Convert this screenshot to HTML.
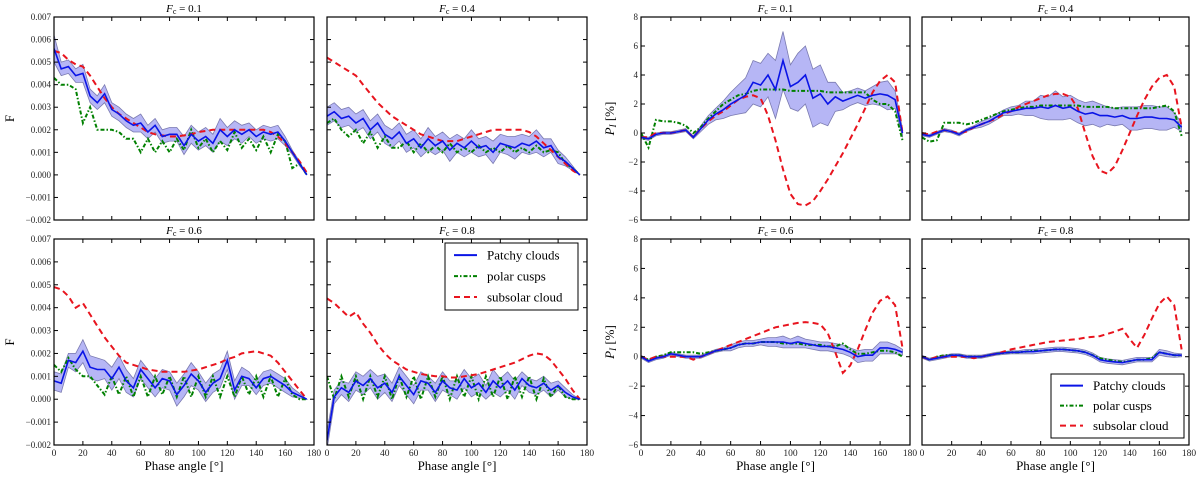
<!DOCTYPE html>
<html><head><meta charset="utf-8">
<style>
html,body{margin:0;padding:0;background:#fff;}
svg{display:block;font-family:"Liberation Serif",serif;}
</style></head>
<body>
<svg id="fig" width="1200" height="478" viewBox="0 0 1200 478" xmlns="http://www.w3.org/2000/svg"></svg>
<script>
const phase=[0,5,10,15,20,25,30,35,40,45,50,55,60,65,70,75,80,85,90,95,100,105,110,115,120,125,130,135,140,145,150,155,160,165,170,175];
// Flux panels (units of 0.001)
const fluxA_sub=[5.5,5.4,5.1,4.9,4.8,4.4,3.9,3.4,3.0,2.7,2.5,2.3,2.1,1.9,1.8,1.75,1.7,1.7,1.75,1.8,1.9,1.95,2.0,2.0,2.0,2.0,2.0,2.0,2.0,2.0,1.9,1.7,1.4,1.0,0.6,0.1];
const fluxA_patchy=[5.6,4.7,4.8,4.4,4.5,3.5,3.2,3.6,2.9,2.7,2.4,2.2,2.3,1.9,2.2,1.7,1.8,1.8,1.3,1.8,1.5,1.7,1.4,2.0,1.7,2.0,1.8,2.0,1.7,1.9,1.8,1.9,1.5,1.0,0.5,0.0];
const fluxA_band=[0.6,0.3,0.3,0.3,0.4,0.3,0.3,0.4,0.3,0.3,0.3,0.3,0.4,0.3,0.3,0.3,0.3,0.3,0.4,0.4,0.4,0.4,0.4,0.5,0.4,0.4,0.4,0.3,0.3,0.3,0.3,0.3,0.2,0.1,0.1,0.0];
const fluxA_polar=[4.3,4.0,4.0,3.8,2.3,3.0,2.0,2.0,2.0,1.9,1.6,1.6,1.0,1.6,1.0,1.5,1.0,1.6,1.1,2.0,1.2,1.6,1.0,1.5,1.1,1.9,1.2,1.6,1.1,1.7,1.0,1.8,1.5,0.3,0.5,0.0];
const fluxB_sub=[5.2,5.0,4.8,4.6,4.4,4.0,3.6,3.2,2.9,2.6,2.4,2.2,2.0,1.8,1.7,1.6,1.5,1.5,1.5,1.6,1.7,1.8,1.9,2.0,2.0,2.0,2.0,2.0,1.9,1.7,1.4,1.1,0.8,0.5,0.2,0.0];
const fluxB_patchy=[2.6,2.8,2.5,2.6,2.3,2.5,2.0,2.3,1.8,1.6,1.9,1.4,1.6,1.2,1.6,1.3,1.5,1.1,1.4,1.2,1.5,1.2,1.3,1.0,1.4,1.3,1.2,1.4,1.3,1.5,1.2,1.3,0.8,0.6,0.3,0.0];
const fluxB_band=[0.4,0.4,0.4,0.4,0.4,0.4,0.4,0.4,0.4,0.4,0.4,0.4,0.4,0.4,0.5,0.4,0.4,0.5,0.4,0.4,0.5,0.4,0.4,0.5,0.4,0.4,0.5,0.4,0.4,0.5,0.4,0.3,0.3,0.2,0.1,0.0];
const fluxB_polar=[2.3,2.5,2.0,1.7,2.0,1.4,1.9,1.2,1.7,1.2,1.2,1.5,1.0,1.4,1.0,1.3,1.0,1.4,1.0,1.2,1.0,1.3,1.0,1.2,1.0,1.3,1.0,1.2,1.0,1.3,1.0,1.1,1.0,0.5,0.3,0.0];
const fluxC_sub=[4.9,4.8,4.5,4.0,4.2,3.7,3.2,2.7,2.3,1.9,1.6,1.5,1.4,1.3,1.25,1.2,1.2,1.2,1.2,1.25,1.3,1.4,1.5,1.6,1.75,1.85,2.0,2.05,2.1,2.0,1.9,1.6,1.2,0.8,0.4,0.0];
const fluxC_patchy=[0.8,0.7,1.7,1.6,2.1,1.4,1.3,1.3,0.9,1.4,0.8,0.5,1.3,0.9,0.5,0.9,0.8,0.2,0.6,1.1,0.8,0.3,0.7,0.9,1.7,0.4,1.0,0.9,0.5,0.9,1.0,0.8,0.6,0.3,0.15,0.0];
const fluxC_band=[0.4,0.4,0.3,0.4,0.5,0.5,0.5,0.4,0.5,0.5,0.5,0.4,0.4,0.4,0.4,0.4,0.4,0.5,0.5,0.5,0.4,0.4,0.4,0.4,0.4,0.4,0.4,0.3,0.3,0.3,0.3,0.3,0.3,0.2,0.1,0.0];
const fluxC_polar=[1.5,1.2,1.8,1.3,1.0,1.0,0.6,0.2,1.0,0.2,1.0,0.1,1.0,0.1,1.0,0.2,1.0,0.1,1.0,0.1,1.0,0.1,1.0,0.1,1.0,0.1,1.0,0.2,1.0,0.1,1.0,0.1,0.9,0.2,0.0,0.0];
const fluxD_sub=[4.4,4.2,3.9,3.6,3.8,3.3,2.9,2.4,2.0,1.7,1.5,1.3,1.2,1.1,1.05,1.0,1.0,0.95,0.95,1.0,1.05,1.1,1.2,1.3,1.4,1.5,1.6,1.75,1.9,2.0,1.95,1.7,1.3,0.9,0.4,0.0];
const fluxD_patchy=[-1.8,0.1,0.5,0.3,0.8,0.6,0.9,0.5,0.7,0.3,1.0,0.6,0.2,0.8,0.7,0.3,0.8,0.5,0.4,0.9,0.5,0.7,0.3,0.8,0.5,0.8,0.4,0.9,0.6,0.5,0.7,0.4,0.6,0.3,0.1,0.0];
const fluxD_band=[0.4,0.3,0.3,0.4,0.4,0.4,0.4,0.5,0.4,0.4,0.4,0.4,0.4,0.4,0.3,0.4,0.4,0.3,0.4,0.4,0.4,0.4,0.3,0.5,0.4,0.4,0.4,0.3,0.3,0.3,0.3,0.3,0.2,0.2,0.1,0.0];
const fluxD_polar=[1.0,0.0,1.0,0.1,1.0,0.0,1.0,0.1,1.0,0.0,1.0,0.1,1.0,0.0,1.0,0.1,1.0,0.0,1.0,0.1,1.0,0.0,1.0,0.1,1.0,0.0,1.0,0.1,1.0,0.0,0.9,0.1,0.6,0.1,0.0,0.0];
// Polarization panels (%)
const polE_sub=[-0.3,-0.3,0,0,0,0.1,0.2,-0.3,0.3,0.8,1.2,1.5,1.9,2.3,2.5,2.6,2.4,1.2,-0.5,-2.5,-4.2,-4.9,-5.0,-4.7,-4.0,-3.2,-2.3,-1.4,-0.4,0.6,1.7,2.8,3.6,4.0,3.5,0];
const polE_patchy=[-0.3,-0.4,-0.1,0,0,0.1,0.2,-0.3,0.3,0.9,1.3,1.6,2.0,2.3,2.6,3.5,3.3,4.0,3.0,5.0,3.2,3.5,4.0,2.4,2.7,2.0,2.5,2.2,2.4,2.6,2.4,2.6,2.7,2.6,2.3,0];
const polE_band=[0.1,0.1,0.1,0.1,0.1,0.1,0.1,0.1,0.2,0.3,0.4,0.6,0.8,1.0,1.2,1.5,1.5,1.5,2.0,2.0,1.5,2.0,2.0,2.0,2.0,1.5,1.0,0.6,0.5,0.5,0.5,0.6,0.8,1.0,0.6,0.3];
const polE_polar=[0,-1.0,0.9,0.8,0.8,0.7,0.5,0.0,0.4,1.0,1.5,2.0,2.3,2.6,2.7,2.9,3.0,3.0,3.0,3.0,2.9,2.9,2.9,2.9,2.9,2.8,2.8,2.8,2.8,2.8,2.8,2.3,2.0,2.0,1.5,-0.5];
const polF_sub=[0,-0.1,0.1,0.2,0.1,0,0.1,0.4,0.6,0.8,1.0,1.3,1.5,1.8,2.0,2.2,2.4,2.6,2.7,2.7,2.5,1.7,0,-1.6,-2.6,-2.8,-2.3,-1.2,0,1.2,2.3,3.2,3.8,4.0,3.2,0.4];
const polF_patchy=[-0.1,-0.2,0.0,0.2,0.1,-0.1,0.2,0.4,0.6,0.8,1.1,1.4,1.5,1.6,1.7,1.7,1.8,1.7,1.9,1.7,1.8,1.5,1.3,1.4,1.2,1.2,1.1,1.2,1.0,1.0,1.1,1.1,1.0,1.0,0.9,0.4];
const polF_band=[0.1,0.1,0.1,0.1,0.1,0.1,0.1,0.1,0.2,0.2,0.2,0.2,0.3,0.3,0.5,0.5,0.8,0.8,1.0,0.8,0.8,0.8,0.8,0.8,0.8,0.6,0.6,0.6,0.8,0.8,0.8,0.8,0.8,0.8,0.5,0.3];
const polF_polar=[-0.3,-0.6,-0.5,0.7,0.7,0.7,0.6,0.7,0.9,1.1,1.3,1.5,1.6,1.7,1.8,1.8,1.9,1.9,1.9,1.9,1.9,1.9,1.8,1.8,1.8,1.8,1.7,1.7,1.7,1.7,1.7,1.7,1.8,1.9,1.5,-0.2];
const polG_sub=[0,-0.2,0,0,0,0,0,-0.2,0,0.2,0.4,0.6,0.8,1.0,1.2,1.4,1.6,1.8,2.0,2.1,2.2,2.3,2.35,2.3,2.2,1.6,0.3,-1.1,-0.6,0.5,1.8,3.0,3.8,4.1,3.5,0.6];
const polG_patchy=[0,-0.3,-0.1,0,0.2,0.1,0,0,0,0.2,0.4,0.5,0.6,0.8,0.9,0.9,1.0,1.0,1.0,1.0,0.9,1.0,0.9,0.8,0.7,0.7,0.6,0.5,0.3,0.0,0.1,0.1,0.6,0.6,0.5,0.3];
const polG_band=[0.1,0.1,0.1,0.1,0.1,0.1,0.1,0.1,0.1,0.1,0.1,0.1,0.2,0.2,0.2,0.2,0.2,0.3,0.3,0.4,0.3,0.4,0.3,0.3,0.3,0.3,0.3,0.3,0.3,0.4,0.4,0.4,0.4,0.4,0.3,0.2];
const polG_polar=[0,-0.2,0,0.1,0.3,0.3,0.3,0.3,0.2,0.3,0.4,0.5,0.6,0.8,0.9,0.9,1.0,1.0,1.0,0.9,0.9,0.9,0.8,0.8,0.8,0.7,0.7,0.9,0.5,0.2,0.2,0.3,0.4,0.4,0.3,0.0];
const polH_sub=[0,-0.2,0,0,0,0,0,-0.1,0,0.1,0.2,0.35,0.5,0.6,0.7,0.8,0.9,1.0,1.05,1.1,1.15,1.2,1.3,1.35,1.4,1.55,1.7,1.9,1.2,0.6,1.5,2.6,3.6,4.1,3.5,0.5];
const polH_patchy=[0,-0.2,-0.1,0,0.1,0.1,0,0,0,0.1,0.2,0.25,0.3,0.3,0.35,0.35,0.4,0.45,0.5,0.5,0.45,0.4,0.3,0.1,-0.2,-0.3,-0.35,-0.4,-0.3,-0.2,-0.2,-0.2,0.3,0.2,0.1,0.1];
const polH_band=[0.1,0.1,0.1,0.1,0.1,0.1,0.1,0.1,0.1,0.1,0.1,0.1,0.1,0.1,0.15,0.15,0.15,0.15,0.15,0.15,0.15,0.15,0.15,0.15,0.15,0.15,0.15,0.15,0.15,0.15,0.15,0.15,0.2,0.2,0.15,0.1];
const polH_polar=[0,-0.2,0,0.1,0.1,0.1,0,0,0,0.1,0.2,0.25,0.3,0.3,0.35,0.4,0.4,0.45,0.5,0.5,0.45,0.4,0.3,0.1,-0.1,-0.2,-0.3,-0.35,-0.3,-0.2,-0.2,-0.1,0.3,0.2,0.1,0.1];
const xTicks=[0,20,40,60,80,100,120,140,160,180];
const fluxTicks=[7,6,5,4,3,2,1,0,-1,-2];
const fluxTickLabels=["0.007","0.006","0.005","0.004","0.003","0.002","0.001","0.000","−0.001","−0.002"];
const polTicks=[8,6,4,2,0,-2,-4,-6];
const polTickLabels=["8","6","4","2","0","−2","−4","−6"];

const NS="http://www.w3.org/2000/svg";
const svg=document.getElementById('fig');
function mk(tag,attrs,parent){const e=document.createElementNS(NS,tag);for(const k in attrs)e.setAttribute(k,attrs[k]);(parent||svg).appendChild(e);return e;}

function panel(cfg){
  const g=mk('g',{});
  
  
  const sx=v=>cfg.x0+(v-0)/180*(cfg.x1-cfg.x0);
  const sy=v=>cfg.y1-(v-cfg.ymin)/(cfg.ymax-cfg.ymin)*(cfg.y1-cfg.y0);
  const clipId='c'+cfg.name;
  const cp=mk('clipPath',{id:clipId},g);mk('rect',{x:cfg.x0,y:cfg.y0,width:cfg.x1-cfg.x0,height:cfg.y1-cfg.y0},cp);
  const dg=mk('g',{'clip-path':'url(#'+clipId+')'},g);
  let up=phase.map((p,i)=>sx(p).toFixed(1)+','+sy(cfg.patchy[i]+cfg.band[i]).toFixed(1));
  let dn=phase.map((p,i)=>sx(p).toFixed(1)+','+sy(cfg.patchy[i]-cfg.band[i]).toFixed(1)).reverse();
  const band=mk('polygon',{points:up.concat(dn).join(' '),fill:'rgba(110,110,235,0.5)',stroke:'#7a7ab0','stroke-width':'0.8'},dg);
  
  
  const line=(arr,st)=>{const p=mk('polyline',Object.assign({points:phase.map((v,i)=>sx(v).toFixed(1)+','+sy(arr[i]).toFixed(1)).join(' '),fill:'none'},st),dg);return p;};
  const pc=line(cfg.polar,{stroke:'#008000','stroke-width':'2','stroke-dasharray':'4,2,1.5,2'});
  
  
  const ss=line(cfg.sub,{stroke:'#e8141e','stroke-width':'2','stroke-dasharray':'6,4'});
  
  
  const pt=line(cfg.patchy,{stroke:'#0a14e6','stroke-width':'1.6'});
  
  
  mk('rect',{x:cfg.x0,y:cfg.y0,width:cfg.x1-cfg.x0,height:cfg.y1-cfg.y0,fill:'none',stroke:'#000','stroke-width':'1.2'},g);
  xTicks.forEach(t=>{const x=sx(t);
    mk('line',{x1:x,y1:cfg.y1,x2:x,y2:cfg.y1-4,stroke:'#000'},g);
    mk('line',{x1:x,y1:cfg.y0,x2:x,y2:cfg.y0+4,stroke:'#000'},g);
    if(cfg.xlab){const tx=mk('text',{x:x,y:cfg.y1+11,'font-size':'9.5','text-anchor':'middle',fill:'#222'},g);tx.textContent=t;
      
      }
  });
  cfg.ticks.forEach((t,i)=>{const y=sy(t);
    mk('line',{x1:cfg.x0,y1:y,x2:cfg.x0+4,y2:y,stroke:'#000'},g);
    mk('line',{x1:cfg.x1,y1:y,x2:cfg.x1-4,y2:y,stroke:'#000'},g);
    if(cfg.ylab){const tx=mk('text',{x:cfg.x0-3,y:y+3,'font-size':'9','text-anchor':'end',fill:'#222'},g);tx.textContent=cfg.tickLabels[i];
      
      }
  });
  const ti=mk('text',{x:(cfg.x0+cfg.x1)/2,y:cfg.y0-5,'font-size':'11','text-anchor':'middle'},g);
  ti.innerHTML='<tspan font-style="italic">F</tspan><tspan font-size="8" dy="2">c</tspan><tspan dy="-2"> = '+cfg.fc+'</tspan>';
  
  
  if(cfg.xlab){const xl=mk('text',{x:(cfg.x0+cfg.x1)/2,y:cfg.y1+25,'font-size':'13','text-anchor':'middle'},g);xl.textContent='Phase angle [°]';
    
    }
  if(cfg.ytitle){const yt=mk('text',{x:cfg.ytx,y:(cfg.y0+cfg.y1)/2,'font-size':'13','text-anchor':'middle',transform:'rotate(-90 '+cfg.ytx+' '+(cfg.y0+cfg.y1)/2+')'},g);
    yt.innerHTML=cfg.ytitle;
    
    }
}
const LT=17,LB=220,BT=239,BB=445;
const F={ymin:-2,ymax:7,ticks:fluxTicks,tickLabels:fluxTickLabels};
const P={ymin:-6,ymax:8,ticks:polTicks,tickLabels:polTickLabels};
const PT='<tspan font-style="italic">P</tspan><tspan font-size="9" dy="2" font-style="italic">I</tspan><tspan dy="-2"> [%]</tspan>';
panel(Object.assign({name:'flux-fc01',x0:54,x1:314,y0:LT,y1:LB,fc:'0.1',sub:fluxA_sub,patchy:fluxA_patchy,band:fluxA_band,polar:fluxA_polar,ylab:true,ytitle:'F',ytx:14},F));
panel(Object.assign({name:'flux-fc04',x0:327,x1:587,y0:LT,y1:LB,fc:'0.4',sub:fluxB_sub,patchy:fluxB_patchy,band:fluxB_band,polar:fluxB_polar},F));
panel(Object.assign({name:'flux-fc06',x0:54,x1:314,y0:BT,y1:BB,fc:'0.6',sub:fluxC_sub,patchy:fluxC_patchy,band:fluxC_band,polar:fluxC_polar,ylab:true,xlab:true,ytitle:'F',ytx:14},F));
panel(Object.assign({name:'flux-fc08',x0:327,x1:587,y0:BT,y1:BB,fc:'0.8',sub:fluxD_sub,patchy:fluxD_patchy,band:fluxD_band,polar:fluxD_polar,xlab:true},F));
panel(Object.assign({name:'pol-fc01',x0:641,x1:910,y0:LT,y1:LB,fc:'0.1',sub:polE_sub,patchy:polE_patchy,band:polE_band,polar:polE_polar,ylab:true,ytitle:PT,ytx:614},P));
panel(Object.assign({name:'pol-fc04',x0:922,x1:1189,y0:LT,y1:LB,fc:'0.4',sub:polF_sub,patchy:polF_patchy,band:polF_band,polar:polF_polar},P));
panel(Object.assign({name:'pol-fc06',x0:641,x1:910,y0:BT,y1:BB,fc:'0.6',sub:polG_sub,patchy:polG_patchy,band:polG_band,polar:polG_polar,ylab:true,xlab:true,ytitle:PT,ytx:614},P));
panel(Object.assign({name:'pol-fc08',x0:922,x1:1189,y0:BT,y1:BB,fc:'0.8',sub:polH_sub,patchy:polH_patchy,band:polH_band,polar:polH_polar,xlab:true},P));

function legend(x,y,w,h,name){
  const g=mk('g',{});
  
  
  mk('rect',{x:x,y:y,width:w,height:h,fill:'#fff',stroke:'#000','stroke-width':'1'},g);
  const items=[['Patchy clouds',{stroke:'#0a14e6'}],['polar cusps',{stroke:'#008000','stroke-dasharray':'4,2,1.5,2'}],['subsolar cloud',{stroke:'#e8141e','stroke-dasharray':'6,4'}]];
  items.forEach((it,i)=>{const yy=y+h/6+i*h/3.2+1;
    mk('line',Object.assign({x1:x+9,y1:yy,x2:x+32,y2:yy,'stroke-width':'2'},it[1]),g);
    const t=mk('text',{x:x+42,y:yy+4.5,'font-size':'13'},g);t.textContent=it[0];
    
    });
}
legend(445,243,133,67,'legend-flux');
legend(1051,374,133,64,'legend-polarization');
</script>
</body></html>
